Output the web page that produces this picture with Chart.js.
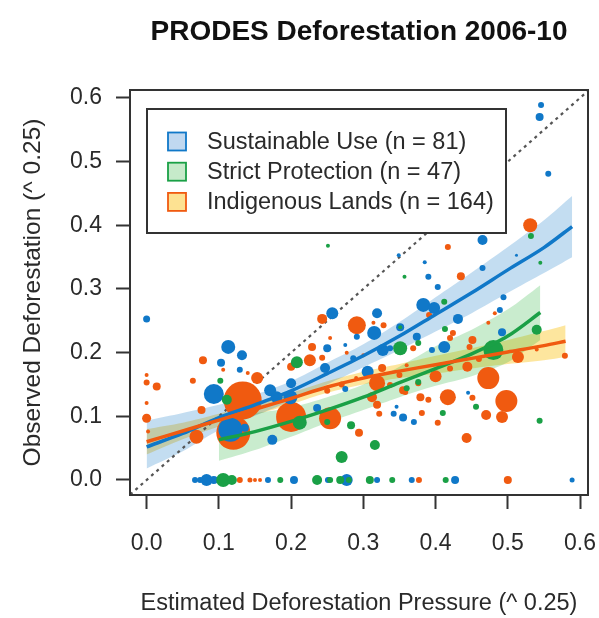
<!DOCTYPE html>
<html lang="en">
<head>
<meta charset="UTF-8" />
<title>PRODES Deforestation 2006-10</title>
<style>
  html, body { margin: 0; padding: 0; background: #fff; }
  #wrap { width: 599px; height: 618px; }
</style>
</head>
<body>
<div id="wrap"><canvas id="chart" width="599" height="618"></canvas></div>
<script src="https://cdn.jsdelivr.net/npm/chart.js@4.4.1/dist/chart.umd.min.js"></script>
<script>
// axes
var xTicks = [0, 0.1, 0.2, 0.3, 0.4, 0.5, 0.6];
var yTicks = [0, 0.1, 0.2, 0.3, 0.4, 0.5, 0.6];
var xTickLabels = ['0.0', '0.1', '0.2', '0.3', '0.4', '0.5', '0.6'];
var yTickLabels = ['0.0', '0.1', '0.2', '0.3', '0.4', '0.5', '0.6'];
var xRange = [-0.023, 0.611];
var yRange = [-0.0236, 0.6125];
var identity = [-0.03, 0.62];

var groupNames = ['Sustainable Use', 'Strict Protection', 'Indigenous Lands'];
var groupCounts = [81, 47, 164];

// Sustainable Use areas: pressure, observed, marker size
var susX = [0.067, 0.074, 0.083, 0.093, 0.168, 0.204, 0.251, 0.277, 0.319, 0.367, 0.427, 0.589,
  0.0, 0.546, 0.544, 0.556, 0.465, 0.385, 0.349, 0.39, 0.465, 0.403, 0.383, 0.398, 0.494, 0.489,
  0.431, 0.319, 0.257, 0.315, 0.351, 0.291, 0.25, 0.275, 0.492, 0.374, 0.337, 0.327, 0.412, 0.395,
  0.113, 0.132, 0.103, 0.129, 0.247, 0.286, 0.306, 0.093, 0.171, 0.116, 0.174, 0.199, 0.18, 0.236,
  0.275, 0.342, 0.355, 0.37, 0.2, 0.136, 0.445, 0.346, 0.512];
var susY = [0, 0, 0, 0, 0, 0, 0, 0, 0, 0, 0, 0,
  0.253, 0.589, 0.57, 0.481, 0.377, 0.342, 0.353, 0.319, 0.333, 0.303, 0.275, 0.27, 0.287, 0.267,
  0.253, 0.262, 0.262, 0.231, 0.24, 0.225, 0.207, 0.212, 0.232, 0.225, 0.207, 0.204, 0.209, 0.204,
  0.209, 0.196, 0.184, 0.173, 0.176, 0.191, 0.17, 0.135, 0.141, 0.079, 0.063, 0.13, 0.13, 0.113,
  0.143, 0.104, 0.098, 0.091, 0.152, 0.082, 0.137, 0.115, 0.353];
var susSize = [3, 3, 6, 4, 3, 4, 3, 6, 3, 3, 4, 2.5,
  3.5, 3, 4, 3, 5, 2, 2, 3, 3, 3, 7, 6, 3, 3,
  5, 5, 6, 7, 4, 3, 4, 2, 4, 4, 3, 6, 6, 3,
  7, 5, 4, 3, 5, 3, 6, 10, 6, 12, 5, 7, 6, 4,
  3, 3, 4, 3, 5, 4, 2, 2, 1.5];

// Strict Protection areas
var strX = [0.106, 0.118, 0.185, 0.236, 0.254, 0.268, 0.28, 0.309, 0.34, 0.414,
  0.251, 0.357, 0.412, 0.532, 0.545, 0.208, 0.102, 0.351, 0.351, 0.413, 0.376, 0.54, 0.48,
  0.376, 0.456, 0.41, 0.544, 0.283, 0.316, 0.27, 0.212, 0.25, 0.111, 0.36];
var strY = [0, 0, 0, 0, 0, 0, 0, 0, 0, 0,
  0.368, 0.319, 0.28, 0.383, 0.341, 0.185, 0.156, 0.207, 0.24, 0.237, 0.215, 0.236, 0.204,
  0.154, 0.115, 0.105, 0.093, 0.086, 0.055, 0.036, 0.09, 0.091, 0.126, 0.144];
var strSize = [7, 5, 3, 5, 3, 4, 3, 4, 3, 3,
  2, 2, 3, 3, 2, 6, 3, 7, 2, 3, 3, 5, 10,
  3, 3, 3, 3, 4, 5, 6, 7, 3, 5, 3];

// Indigenous Lands
var indX = [0.129, 0.143, 0.15, 0.157, 0.377, 0.5,
  0, 0, 0.014, 0, 0, 0.002,
  0.064, 0.078, 0.069, 0.076, 0.531, 0.417, 0.435, 0.243, 0.291, 0.328, 0.314, 0.254, 0.229,
  0.226, 0.243, 0.153, 0.14, 0.2, 0.106, 0.326, 0.319, 0.369, 0.391, 0.424, 0.42, 0.451, 0.447,
  0.482, 0.473, 0.514, 0.579, 0.444, 0.4, 0.473, 0.379, 0.39, 0.417, 0.451, 0.498, 0.47, 0.492,
  0.381, 0.403, 0.443, 0.294, 0.358, 0.312, 0.322, 0.355, 0.337, 0.376, 0.319, 0.133, 0.12,
  0.2, 0.254, 0.3, 0.277, 0.27, 0.29, 0.35, 0.36, 0.42, 0.46, 0.54, 0.25];
var indY = [0, 0, 0, 0, 0, 0,
  0.165, 0.153, 0.147, 0.121, 0.097, 0.076,
  0.156, 0.188, 0.068, 0.11, 0.40, 0.366, 0.32, 0.253, 0.243, 0.243, 0.247, 0.223, 0.209,
  0.188, 0.192, 0.16, 0.168, 0.178, 0.173, 0.176, 0.152, 0.207, 0.259, 0.231, 0.223, 0.22, 0.209,
  0.262, 0.247, 0.193, 0.195, 0.178, 0.163, 0.16, 0.13, 0.126, 0.13, 0.129, 0.124, 0.102, 0.099,
  0.105, 0.09, 0.066, 0.074, 0.138, 0.13, 0.104, 0.141, 0.149, 0.152, 0.118, 0.125, 0.074,
  0.099, 0.097, 0.196, 0.2, 0.15, 0.16, 0.165, 0.18, 0.175, 0.19, 0.205, 0.14];
var indSize = [3, 2.5, 2, 2, 3, 4,
  2, 3, 4, 2, 4.5, 2,
  3, 4, 7, 4, 7, 3, 4, 5, 9, 3, 2, 2, 4,
  6, 3, 6, 2, 4, 2, 4, 8, 3, 3, 3, 3, 4, 3,
  2, 2, 6, 3, 5, 6, 11, 4, 3, 8, 3, 11, 5, 6,
  3, 3, 5, 4, 3, 5, 3, 4, 3, 3, 4, 19, 17,
  15, 11, 2, 2, 3, 2, 3, 2, 3, 3, 2, 3];

// smoothed fits with confidence bands
var susFitX = [0, 0.05, 0.1, 0.15, 0.2, 0.25, 0.3, 0.35, 0.4, 0.45, 0.5, 0.55, 0.589];
var susFit = [0.052, 0.073, 0.098, 0.118, 0.14, 0.167, 0.195, 0.226, 0.26, 0.294, 0.33, 0.365, 0.398];
var susUpper = [0.093, 0.105, 0.118, 0.134, 0.155, 0.184, 0.213, 0.248, 0.287, 0.326, 0.366, 0.408, 0.446];
var susLower = [0.018, 0.045, 0.078, 0.101, 0.124, 0.15, 0.177, 0.204, 0.233, 0.262, 0.294, 0.325, 0.35];

var strFitX = [0.1, 0.15, 0.2, 0.25, 0.3, 0.35, 0.4, 0.45, 0.5, 0.545];
var strFit = [0.063, 0.076, 0.092, 0.11, 0.13, 0.153, 0.175, 0.198, 0.226, 0.263];
var strUpper = [0.097, 0.105, 0.114, 0.13, 0.15, 0.178, 0.21, 0.236, 0.268, 0.306];
var strLower = [0.03, 0.047, 0.068, 0.09, 0.11, 0.13, 0.148, 0.163, 0.185, 0.22];

var indFitX = [0, 0.05, 0.1, 0.15, 0.2, 0.25, 0.3, 0.35, 0.4, 0.45, 0.5, 0.55, 0.58];
var indFit = [0.06, 0.077, 0.094, 0.111, 0.128, 0.146, 0.16, 0.171, 0.181, 0.191, 0.201, 0.211, 0.218];
var indUpper = [0.08, 0.09, 0.104, 0.12, 0.137, 0.155, 0.17, 0.182, 0.195, 0.207, 0.22, 0.234, 0.243];
var indLower = [0.04, 0.064, 0.084, 0.102, 0.119, 0.137, 0.15, 0.16, 0.167, 0.175, 0.182, 0.188, 0.193];

var BLUE = 'rgb(16,120,200)';
var GREEN = 'rgb(26,160,70)';
var ORANGE = 'rgb(240,90,16)';
var colors = [BLUE, GREEN, ORANGE];
var bandColors = ['rgba(16,120,200,0.25)', 'rgba(40,180,60,0.25)', 'rgba(250,200,40,0.45)'];
var swatchFill = ['rgb(192,216,240)', 'rgb(198,234,202)', 'rgb(253,226,146)'];
var FONT = "'Liberation Sans', Arial, Helvetica, sans-serif";
var INK = '#2a2a2a';

function bubbles(xs, ys, rs) {
  return xs.map(function (x, i) { return { x: x, y: ys[i], r: rs[i] }; });
}
function pts(xs, ys) {
  return xs.map(function (x, i) { return { x: x, y: ys[i] }; });
}
function band(xs, up, lo, col) {
  return [
    { type: 'line', data: pts(xs, up), fill: '+1', backgroundColor: col, borderWidth: 0, pointRadius: 0, tension: 0.3, order: 5 },
    { type: 'line', data: pts(xs, lo), fill: false, borderWidth: 0, pointRadius: 0, tension: 0.3, order: 5 }
  ];
}
function fit(xs, ys, col) {
  return { type: 'line', data: pts(xs, ys), borderColor: col, borderWidth: 3.5, pointRadius: 0, tension: 0.3, fill: false, order: 0 };
}
function cloud(xs, ys, rs, col, ord) {
  return { type: 'bubble', data: bubbles(xs, ys, rs), backgroundColor: col, borderWidth: 0, hoverRadius: 0, order: ord };
}

var datasets = []
  .concat(band(susFitX, susUpper, susLower, bandColors[0]))
  .concat(band(strFitX, strUpper, strLower, bandColors[1]))
  .concat(band(indFitX, indUpper, indLower, bandColors[2]))
  .concat([
    { type: 'line', data: pts(identity, identity), borderColor: '#555', borderWidth: 2.2, borderDash: [3, 4], pointRadius: 0, fill: false, order: 4 },
    cloud(indX, indY, indSize, ORANGE, 3),
    cloud(susX, susY, susSize, BLUE, 2),
    cloud(strX, strY, strSize, GREEN, 1),
    fit(indFitX, indFit, ORANGE),
    fit(susFitX, susFit, BLUE),
    fit(strFitX, strFit, GREEN)
  ]);

// box, legend, title and axis titles
var frame = {
  id: 'frame',
  afterDatasetsDraw: function (chart) {
    var ctx = chart.ctx, a = chart.chartArea;
    ctx.save();
    ctx.strokeStyle = '#333';
    ctx.lineWidth = 2;
    ctx.strokeRect(a.left, a.top, a.right - a.left, a.bottom - a.top);

    // legend
    var lx = 147, ly = 109, lw = 359, lh = 124;
    ctx.fillStyle = '#fff';
    ctx.fillRect(lx, ly, lw, lh);
    ctx.strokeRect(lx, ly, lw, lh);
    ctx.font = '23.5px ' + FONT;
    ctx.textAlign = 'left';
    ctx.textBaseline = 'middle';
    for (var i = 0; i < groupNames.length; i++) {
      var cy = 141.5 + i * 30.2;
      ctx.fillStyle = swatchFill[i];
      ctx.fillRect(168, cy - 9, 18, 18);
      ctx.strokeStyle = colors[i];
      ctx.lineWidth = 1.8;
      ctx.strokeRect(168, cy - 9, 18, 18);
      ctx.fillStyle = INK;
      ctx.fillText(groupNames[i] + ' (n = ' + groupCounts[i] + ')', 207, cy + 1);
    }
    ctx.restore();
  },
  afterDraw: function (chart) {
    var ctx = chart.ctx, a = chart.chartArea;
    var cx = (a.left + a.right) / 2;
    ctx.save();
    ctx.fillStyle = '#111';
    ctx.textAlign = 'center';
    ctx.textBaseline = 'middle';
    ctx.font = 'bold 28px ' + FONT;
    ctx.fillText('PRODES Deforestation 2006-10', cx, 32);
    ctx.fillStyle = INK;
    ctx.font = '23.5px ' + FONT;
    ctx.fillText('Estimated Deforestation Pressure (^ 0.25)', cx, 604);
    ctx.translate(33, (a.top + a.bottom) / 2);
    ctx.rotate(-Math.PI / 2);
    ctx.font = '24.5px ' + FONT;
    ctx.fillText('Observed Deforestation (^ 0.25)', 0, 0);
    ctx.restore();
  }
};

var ctx = document.getElementById('chart').getContext('2d');
new Chart(ctx, {
  type: 'bubble',
  data: { datasets: datasets },
  options: {
    responsive: false,
    animation: false,
    events: [],
    layout: { autoPadding: false, padding: { top: 90, right: 11, left: 0, bottom: 0 } },
    plugins: { legend: { display: false }, tooltip: { enabled: false }, title: { display: false } },
    scales: {
      x: {
        type: 'linear',
        min: xRange[0],
        max: xRange[1],
        afterFit: function (s) { s.height = 123; s.paddingLeft = 0; s.paddingRight = 0; },
        afterBuildTicks: function (s) { s.ticks = xTicks.map(function (v) { return { value: v }; }); },
        ticks: {
          callback: function (v, i) { return xTickLabels[i]; },
          font: { family: FONT, size: 23 },
          color: INK,
          padding: 21,
          maxRotation: 0,
          autoSkip: false
        },
        grid: { drawOnChartArea: false, drawTicks: true, tickLength: 14, tickColor: '#333', tickWidth: 2 },
        border: { display: false }
      },
      y: {
        type: 'linear',
        min: yRange[0],
        max: yRange[1],
        afterFit: function (s) { s.width = 130; s.paddingTop = 0; s.paddingBottom = 0; },
        afterBuildTicks: function (s) { s.ticks = yTicks.map(function (v) { return { value: v }; }); },
        ticks: {
          callback: function (v, i) { return yTickLabels[i]; },
          font: { family: FONT, size: 23 },
          color: INK,
          padding: 14,
          autoSkip: false
        },
        grid: { drawOnChartArea: false, drawTicks: true, tickLength: 14, tickColor: '#333', tickWidth: 2 },
        border: { display: false }
      }
    }
  },
  plugins: [frame]
});
</script>
</body>
</html>
